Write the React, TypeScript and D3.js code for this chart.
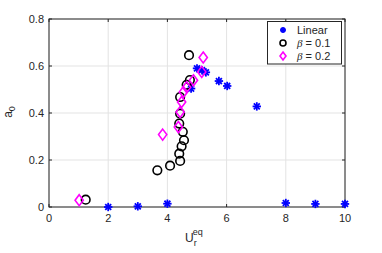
import React, { useRef, useEffect } from 'react';
import * as d3 from 'd3';

// Linear
const linX = [2, 3, 4, 4.8, 5.0, 5.17, 5.3, 5.74, 6.02, 7.02, 8, 9, 10];
const linY = [0.0, 0.003, 0.014, 0.504, 0.59, 0.582, 0.573, 0.536, 0.515, 0.428, 0.017, 0.013, 0.013];

// beta = 0.1
const b1X = [1.24, 3.66, 4.09, 4.43, 4.40, 4.48, 4.56, 4.52, 4.40, 4.43, 4.43, 4.65, 4.76, 4.73];
const b1Y = [0.031, 0.156, 0.176, 0.196, 0.227, 0.258, 0.284, 0.32, 0.355, 0.397, 0.468, 0.52, 0.54, 0.646];

// beta = 0.2
const b2X = [1.02, 3.84, 4.37, 4.43, 4.48, 4.54, 4.65, 4.88, 5.16, 5.21];
const b2Y = [0.029, 0.308, 0.34, 0.404, 0.447, 0.489, 0.51, 0.539, 0.575, 0.636];

const xTicks = [0, 2, 4, 6, 8, 10];
const yTicks = [0, 0.2, 0.4, 0.6, 0.8];

function App() {
  const svgRef = useRef<SVGSVGElement>(null);

  useEffect(() => {
    const svg = d3.select(svgRef.current);
    svg.selectAll('*').remove();

    const left = 49, right = 345, top = 19, bottom = 207;
    const x = d3.scaleLinear().domain([0, 10]).range([left, right]);
    const y = d3.scaleLinear().domain([0, 0.8]).range([bottom, top]);
    const font = 'Helvetica, Arial, "Liberation Sans", sans-serif';
    const axisColor = '#262626';

    // grid
    svg.append('g').selectAll('line').data(xTicks).join('line')
      .attr('x1', d => x(d)).attr('x2', d => x(d))
      .attr('y1', top).attr('y2', bottom)
      .attr('stroke', '#e3e3e3').attr('stroke-width', 1);
    svg.append('g').selectAll('line').data(yTicks).join('line')
      .attr('x1', left).attr('x2', right)
      .attr('y1', d => y(d)).attr('y2', d => y(d))
      .attr('stroke', '#e3e3e3').attr('stroke-width', 1);

    // box
    svg.append('rect')
      .attr('x', left).attr('y', top)
      .attr('width', right - left).attr('height', bottom - top)
      .attr('fill', 'none').attr('stroke', axisColor).attr('stroke-width', 1);

    // tick marks (inward, all four sides)
    const tl = 3;
    xTicks.forEach(t => {
      svg.append('line').attr('x1', x(t)).attr('x2', x(t)).attr('y1', bottom).attr('y2', bottom - tl).attr('stroke', axisColor);
      svg.append('line').attr('x1', x(t)).attr('x2', x(t)).attr('y1', top).attr('y2', top + tl).attr('stroke', axisColor);
    });
    yTicks.forEach(t => {
      svg.append('line').attr('x1', left).attr('x2', left + tl).attr('y1', y(t)).attr('y2', y(t)).attr('stroke', axisColor);
      svg.append('line').attr('x1', right).attr('x2', right - tl).attr('y1', y(t)).attr('y2', y(t)).attr('stroke', axisColor);
    });

    // tick labels
    svg.append('g').selectAll('text').data(xTicks).join('text')
      .attr('x', d => x(d)).attr('y', bottom + 15)
      .attr('text-anchor', 'middle')
      .attr('font-family', font).attr('font-size', 11).attr('fill', axisColor)
      .text(d => d3.format('d')(d));
    svg.append('g').selectAll('text').data(yTicks).join('text')
      .attr('x', left - 5).attr('y', d => y(d) + 4)
      .attr('text-anchor', 'end')
      .attr('font-family', font).attr('font-size', 11).attr('fill', axisColor)
      .text(d => (d === 0 ? '0' : d3.format('.1f')(d)));

    // axis labels
    const xl = svg.append('text')
      .attr('x', 185).attr('y', 242)
      .attr('font-family', font).attr('font-size', 12).attr('fill', axisColor);
    xl.append('tspan').text('U');
    xl.append('tspan').attr('font-size', 9).attr('dy', 4).text('r');
    xl.append('tspan').attr('font-size', 9).attr('dx', -4).attr('dy', -11).text('eq');

    const yl = svg.append('text')
      .attr('transform', `translate(12, 112) rotate(-90)`)
      .attr('text-anchor', 'middle')
      .attr('font-family', font).attr('font-size', 12).attr('fill', axisColor);
    yl.append('tspan').text('a');
    yl.append('tspan').attr('font-size', 9).attr('dy', 3).text('0');

    // marker helpers
    const star = (g: any, cx: number, cy: number, r: number) => {
      for (let k = 0; k < 4; k++) {
        const a = (k * Math.PI) / 4;
        g.append('line')
          .attr('x1', cx - r * Math.cos(a)).attr('y1', cy - r * Math.sin(a))
          .attr('x2', cx + r * Math.cos(a)).attr('y2', cy + r * Math.sin(a))
          .attr('stroke', '#0000ff').attr('stroke-width', 1.8);
      }
    };
    const diamond = (g: any, cx: number, cy: number, r: number) => {
      g.append('path')
        .attr('d', `M${cx},${cy - r}L${cx + r * 0.75},${cy}L${cx},${cy + r}L${cx - r * 0.75},${cy}Z`)
        .attr('fill', 'none').attr('stroke', '#ff00ff').attr('stroke-width', 1.6);
    };
    const circle = (g: any, cx: number, cy: number, r: number) => {
      g.append('circle').attr('cx', cx).attr('cy', cy).attr('r', r)
        .attr('fill', 'none').attr('stroke', '#000').attr('stroke-width', 1.6);
    };

    const gPts = svg.append('g');
    linX.forEach((v, i) => star(gPts, x(v), y(linY[i]), 4.2));
    b1X.forEach((v, i) => circle(gPts, x(v), y(b1Y[i]), 4.3));
    b2X.forEach((v, i) => diamond(gPts, x(v), y(b2Y[i]), 5.5));

    // legend
    const lg = svg.append('g');
    lg.append('rect').attr('x', 267.5).attr('y', 21.5).attr('width', 74).attr('height', 42.5)
      .attr('fill', '#fff').attr('stroke', axisColor).attr('stroke-width', 1);
    star(lg, 283, 30, 3);
    circle(lg, 283, 43, 3);
    diamond(lg, 283, 56, 4);
    lg.append('text').attr('x', 297).attr('y', 34)
      .attr('font-family', font).attr('font-size', 11).attr('fill', axisColor).text('Linear');
    const t1 = lg.append('text').attr('x', 297).attr('y', 47)
      .attr('font-family', font).attr('font-size', 11).attr('fill', axisColor);
    t1.append('tspan').attr('font-style', 'italic').attr('font-family', 'serif').text('β');
    t1.append('tspan').text(' = 0.1');
    const t2 = lg.append('text').attr('x', 297).attr('y', 60)
      .attr('font-family', font).attr('font-size', 11).attr('fill', axisColor);
    t2.append('tspan').attr('font-style', 'italic').attr('font-family', 'serif').text('β');
    t2.append('tspan').text(' = 0.2');
  }, []);

  return (
    <svg ref={svgRef} width={382} height={253}
      style={{ position: 'absolute', left: 0, top: 0, background: '#fff' }} />
  );
}

export default App;
